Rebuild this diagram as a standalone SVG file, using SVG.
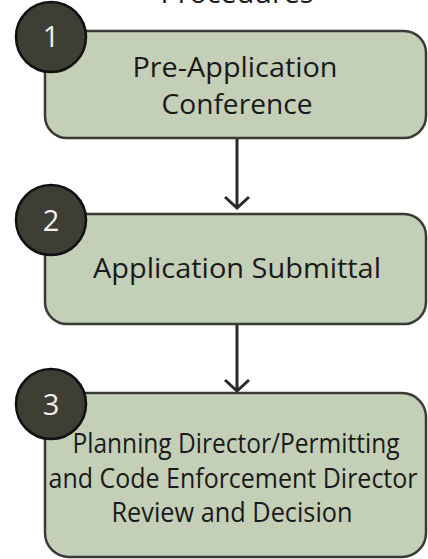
<svg xmlns="http://www.w3.org/2000/svg" width="428" height="559" viewBox="0 0 428 559">
<style>
.box{fill:#c3cfb7;stroke:#3a3a36;stroke-width:2.5}
.badge{fill:#3e3e35;stroke:#111;stroke-width:2.5}
.num{font-family:"Open Sans","Noto Sans",sans-serif;font-size:29px;fill:#f2f2f2;text-anchor:middle}
.lbl{font-family:"Open Sans","Noto Sans",sans-serif;font-size:27px;fill:#1a1a1a;text-anchor:middle}
.conn{stroke:#2a2a2a;stroke-width:3;fill:none}
</style>
<rect width="428" height="559" fill="#ffffff"/>
<text class="lbl" x="237" y="3" textLength="153" lengthAdjust="spacingAndGlyphs">Procedures</text>
<g id="connectors">
<path class="conn" d="M237 139V207M225 197L237 208L249 197"/>
<path class="conn" d="M237 325V390M225 380L237 391L249 380"/>
</g>
<g id="node1">
<rect class="box" x="45" y="31" width="381" height="107" rx="22"/>
<circle class="badge" cx="51" cy="37" r="35"/>
<text class="num" x="51" y="47">1</text>
<text class="lbl" x="235" y="77" textLength="205" lengthAdjust="spacingAndGlyphs">Pre-Application</text>
<text class="lbl" x="237" y="114" textLength="151" lengthAdjust="spacingAndGlyphs">Conference</text>
</g>
<g id="node2">
<rect class="box" x="45" y="214" width="381" height="110" rx="22"/>
<circle class="badge" cx="51" cy="220" r="35"/>
<text class="num" x="51" y="231">2</text>
<text class="lbl" x="237" y="278" textLength="288" lengthAdjust="spacingAndGlyphs">Application Submittal</text>
</g>
<g id="node3">
<rect class="box" x="45" y="393" width="381" height="164" rx="24"/>
<circle class="badge" cx="51" cy="404" r="35"/>
<text class="num" x="51" y="415">3</text>
<text class="lbl" x="236" y="453" textLength="327" lengthAdjust="spacingAndGlyphs">Planning Director/Permitting</text>
<text class="lbl" x="233" y="488" textLength="369" lengthAdjust="spacingAndGlyphs">and Code Enforcement Director</text>
<text class="lbl" x="232" y="522" textLength="241" lengthAdjust="spacingAndGlyphs">Review and Decision</text>
</g>
</svg>
